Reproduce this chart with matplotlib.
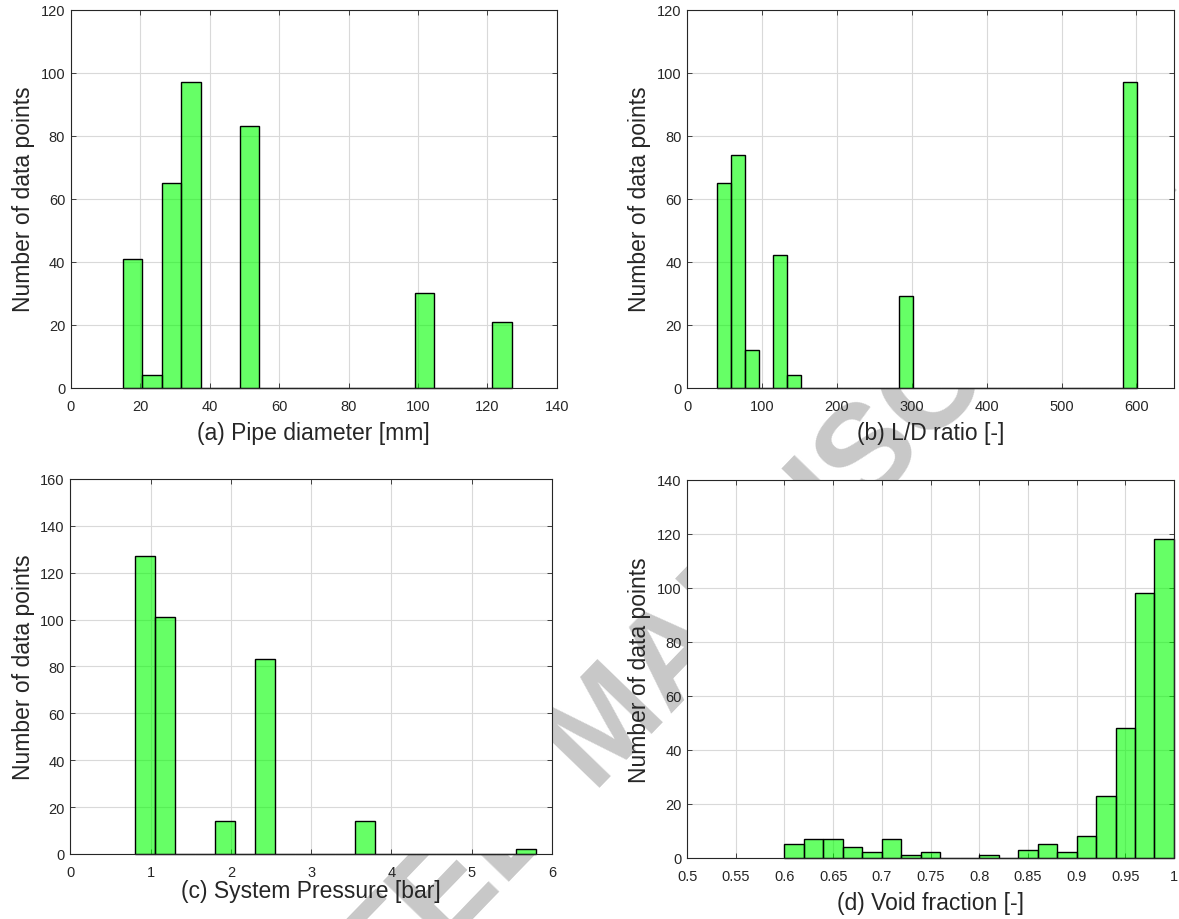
import numpy as np
import matplotlib
matplotlib.use("Agg")
import matplotlib.pyplot as plt

plt.rcParams["font.family"] = ["Liberation Sans", "DejaVu Sans"]

# histogram counts per bin (bins given by start + fixed width)
diam_start, diam_width = 15.0, 5.6
diam_counts = [41, 4, 65, 97, 0, 0, 83, 0, 0, 0, 0, 0, 0, 0, 0, 30, 0, 0, 0, 21]

ld_start, ld_width = 40.0, 18.7
ld_counts = [65, 74, 12, 0, 42, 4, 0, 0, 0, 0, 0, 0, 0, 29, 0,
             0, 0, 0, 0, 0, 0, 0, 0, 0, 0, 0, 0, 0, 0, 97]

press_start, press_width = 0.8, 0.25
press_counts = [127, 101, 0, 0, 14, 0, 83, 0, 0, 0, 0, 14, 0, 0, 0, 0, 0, 0, 0, 2]

void_start, void_width = 0.6, 0.02
void_counts = [5, 7, 7, 4, 2, 7, 1, 2, 0, 0, 1, 0, 3, 5, 2, 8, 23, 48, 98, 118]

# axis labels and ticks
ylabel = "Number of data points"
xlabels = ["(a) Pipe diameter [mm]", "(b) L/D ratio [-]",
           "(c) System Pressure [bar]", "(d) Void fraction [-]"]
diam_xticks = [0, 20, 40, 60, 80, 100, 120, 140]
ld_xticks = [0, 100, 200, 300, 400, 500, 600]
press_xticks = [0, 1, 2, 3, 4, 5, 6]
void_xticks = [0.5, 0.55, 0.6, 0.65, 0.7, 0.75, 0.8, 0.85, 0.9, 0.95, 1.0]
void_xticklabels = ["0.5", "0.55", "0.6", "0.65", "0.7", "0.75", "0.8",
                    "0.85", "0.9", "0.95", "1"]

AX_COLOR = "#262626"

fig = plt.figure(figsize=(11.79, 9.2), dpi=100)

# grey diagonal watermark behind the axes
fig.text(0.5174, 0.2087, "ACCEPTED MANUSCRIPT", rotation=46, rotation_mode="anchor",
         fontsize=94, fontweight="bold", color="#c8c8c8",
         ha="center", va="center", zorder=-1)


def hist_panel(rect, start, width, counts, xlim, xticks, ymax, xlabel,
               xticklabels=None, xlabelpad=6):
    ax = fig.add_axes(rect)
    counts = np.asarray(counts, dtype=float)
    lefts = start + width * np.arange(len(counts))
    ax.bar(lefts, counts, width=width, align="edge",
           facecolor=(0, 1, 0, 0.6), edgecolor="black", linewidth=1.0,
           clip_on=False, zorder=2)
    ax.set_xlim(*xlim)
    ax.set_ylim(0, ymax)
    ax.set_xticks(xticks)
    if xticklabels is not None:
        ax.set_xticklabels(xticklabels)
    ax.set_yticks(np.arange(0, ymax + 1, 20))
    ax.grid(True, color="#d9d9d9", linewidth=0.8)
    ax.set_axisbelow(True)
    ax.tick_params(direction="in", top=True, right=True, length=3.5, width=0.6,
                   colors=AX_COLOR, labelsize=10.5, pad=8)
    ax.tick_params(axis="y", pad=4)
    for sp in ax.spines.values():
        sp.set_color(AX_COLOR)
        sp.set_linewidth(0.8)
    ax.set_ylabel(ylabel, fontsize=16.5, color=AX_COLOR, labelpad=4)
    ax.set_xlabel(xlabel, fontsize=16.5, color=AX_COLOR, labelpad=xlabelpad)
    return ax


hist_panel([0.0600, 0.5775, 0.4124, 0.4109], diam_start, diam_width, diam_counts,
           (0, 140), diam_xticks, 120, xlabels[0])
hist_panel([0.5828, 0.5775, 0.4129, 0.4109], ld_start, ld_width, ld_counts,
           (0, 650), ld_xticks, 120, xlabels[1])
hist_panel([0.0597, 0.0707, 0.4085, 0.4076], press_start, press_width, press_counts,
           (0, 6), press_xticks, 160, xlabels[2], xlabelpad=0)
hist_panel([0.5828, 0.0666, 0.4129, 0.4109], void_start, void_width, void_counts,
           (0.5, 1.0), void_xticks, 140, xlabels[3], xticklabels=void_xticklabels)

fig.savefig("out.png", dpi=100, facecolor="white")
